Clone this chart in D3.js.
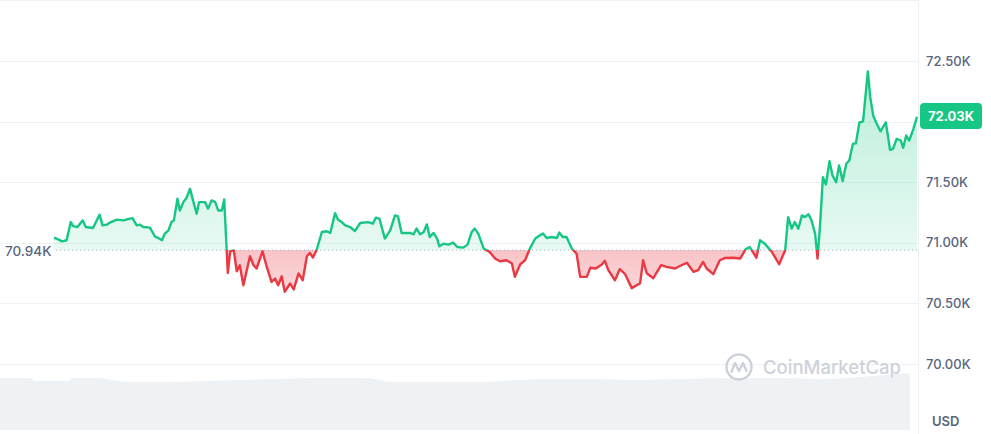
<!DOCTYPE html>
<html>
<head>
<meta charset="utf-8">
<script src="https://cdn.jsdelivr.net/npm/d3@7"></script>
<style>
  body { margin: 0; background: #fff; }
  svg { display: block; font-family: Inter, "Noto Sans", sans-serif; }
</style>
</head>
<body>
<div class="chart"></div>
<script>
// minutes since start of the 24h window
const times = [0,7,13,21,28,32,39,48,53,65,76,81,88,95,105,116,122,131,138,143,149,160,169,174,180,185,191,196,200,206,
  210,216,221,227,232,238,242,252,257,263,269,274,280,284,288,290,294,300,305,310,316,327,333,338,348,355,363,369,374,380,
  385,394,400,408,415,422,427,432,438,447,455,461,469,474,480,486,494,502,511,524,532,537,543,552,561,569,574,580,594,600,
  605,611,617,622,627,633,639,643,650,658,666,673,683,690,697,702,708,717,727,736,744,755,764,769,778,786,794,803,811,816,
  822,830,839,843,849,855,864,872,878,889,895,904,914,919,925,936,944,953,964,978,983,989,1000,1013,1022,1036,1047,1056,1067,1075,
  1083,1089,1100,1111,1120,1133,1145,1154,1161,1172,1178,1186,1198,1203,1210,1220,1225,1231,1236,1242,1248,1253,1259,1264,1270,1274,
  1278,1283,1288,1294,1299,1305,1310,1316,1322,1327,1333,1338,1344,1350,1358,1362,1367,1373,1379,1388,1395,1400,1406,1413,1417,1422,
  1427,1434,1440];

// BTC price, USD
const prices = [71043,71029,71012,71021,71171,71138,71130,71185,71130,71122,71232,71144,71150,71171,71191,71185,71193,71204,71144,71150,
  71130,71125,71048,71040,71021,71076,71103,71171,71185,71364,71267,71336,71369,71446,71350,71240,71336,71336,71281,71350,
  71336,71267,71267,71358,70955,70751,70930,70938,70765,70815,70650,70889,70815,70788,70930,70801,70677,70705,70650,70724,
  70595,70664,70615,70747,70691,70889,70916,70878,70938,71089,71095,71081,71245,71191,71171,71144,71130,71097,71163,71171,
  71158,71207,71199,71035,71103,71226,71218,71081,71081,71070,71117,71070,71089,71152,71048,71081,71037,70971,70993,70985,
  71002,70965,70960,70985,71089,71117,71076,70952,70924,70870,70848,70856,70829,70720,70823,70856,70952,71035,71062,71076,
  71040,71048,71040,71084,71048,71049,70952,70911,70719,70719,70794,70788,70821,70852,70774,70691,70782,70741,70626,70667,
  70856,70749,70708,70815,70801,70788,70815,70835,70760,70774,70842,70788,70741,70856,70875,70877,70870,70947,70965,70877,
  71021,70993,70924,70881,70823,70938,71212,71117,71171,71117,71226,71212,71235,71185,71076,70870,71130,71542,71481,71673,
  71556,71500,71638,71509,71652,71679,71816,71821,71994,72002,72414,72200,72049,71981,71920,71994,71767,71775,71858,71844,
  71784,71885,71844,71940,72040];

const openPrice = 70940;
const lastPrice = 72030;
// 72.00K sits under the price badge, so it gets a gridline but no label
const priceTicks = [70000, 70500, 71000, 71500, 72500];
const gridPrices = [70000, 70500, 71000, 71500, 72000, 72500, 73000];

// volume (bn USD) sampled over the same window
const volTimes = [0, 50, 53, 110, 113, 150, 205, 260, 380, 440, 500, 580, 620, 690, 760, 820, 880, 940, 1000, 1080, 1160, 1240, 1300, 1360, 1420, 1440];
const volumes  = [52, 52, 49, 49, 52, 52, 48, 48, 50, 51, 52, 52, 48, 48, 48, 50, 51, 51, 50, 51, 52, 52, 51, 53, 56, 57];

const W = 991, H = 434;
const axisX = 918;

const svg = d3.select(".chart").append("svg")
    .attr("width", W)
    .attr("height", H);

const x = d3.scaleLinear().domain([0, 1440]).range([54, 917]);
const y = d3.scaleLinear().domain([70000, 72500]).range([364, 61]);
const xv = d3.scaleLinear().domain([0, 1440]).range([0, 910]);
const yv = d3.scaleLinear().domain([0, 60]).range([430, 370]);

const data = times.map((t, i) => ({t: t, p: prices[i]}));
const vdata = volTimes.map((t, i) => ({t: t, v: volumes[i]}));
const yBase = y(openPrice);

// gridlines
svg.append("g")
    .selectAll("line")
    .data(gridPrices)
    .join("line")
    .attr("x1", 0)
    .attr("x2", axisX)
    .attr("y1", d => Math.round(y(d)) + 0.5)
    .attr("y2", d => Math.round(y(d)) + 0.5)
    .attr("stroke", "#eff2f5")
    .attr("stroke-width", 1);

// volume area
svg.append("path")
    .datum(vdata)
    .attr("fill", "#eff2f5")
    .attr("d", d3.area().x(d => xv(d.t)).y0(yv(0)).y1(d => yv(d.v)).curve(d3.curveMonotoneX));

// right axis separator
svg.append("line")
    .attr("x1", axisX + 0.5).attr("x2", axisX + 0.5)
    .attr("y1", 0).attr("y2", H)
    .attr("stroke", "#eff2f5");

// watermark
const wm = svg.append("g").attr("transform", "translate(739,367)");
wm.append("circle").attr("r", 12.5).attr("fill", "none").attr("stroke", "#cdd2da").attr("stroke-width", 2.4);
wm.append("path")
    .attr("d", "M-7.5,5 L-4,-4 L0,4 L4,-4 L7.5,4")
    .attr("fill", "none").attr("stroke", "#cdd2da").attr("stroke-width", 2.4)
    .attr("stroke-linejoin", "round").attr("stroke-linecap", "round");
svg.append("text")
    .attr("x", 763).attr("y", 374)
    .attr("font-size", 18.5).attr("font-weight", 500)
    .attr("fill", "#cdd2da")
    .text("CoinMarketCap");

const defs = svg.append("defs");
defs.append("clipPath").attr("id", "above")
    .append("rect").attr("x", 0).attr("y", 0).attr("width", axisX).attr("height", yBase);
defs.append("clipPath").attr("id", "below")
    .append("rect").attr("x", 0).attr("y", yBase).attr("width", axisX).attr("height", H - yBase);

const gUp = defs.append("linearGradient").attr("id", "gUp")
    .attr("gradientUnits", "userSpaceOnUse")
    .attr("x1", 0).attr("x2", 0).attr("y1", y(d3.max(prices))).attr("y2", yBase);
gUp.append("stop").attr("offset", 0).attr("stop-color", "#16c784").attr("stop-opacity", 0.3);
gUp.append("stop").attr("offset", 1).attr("stop-color", "#16c784").attr("stop-opacity", 0.1);

const gDown = defs.append("linearGradient").attr("id", "gDown")
    .attr("gradientUnits", "userSpaceOnUse")
    .attr("x1", 0).attr("x2", 0).attr("y1", yBase).attr("y2", y(d3.min(prices)));
gDown.append("stop").attr("offset", 0).attr("stop-color", "#ea3943").attr("stop-opacity", 0.3);
gDown.append("stop").attr("offset", 1).attr("stop-color", "#ea3943").attr("stop-opacity", 0.2);

const area = d3.area().x(d => x(d.t)).y0(yBase).y1(d => y(d.p));
const line = d3.line().x(d => x(d.t)).y(d => y(d.p));

svg.append("path").datum(data).attr("clip-path", "url(#above)").attr("fill", "url(#gUp)").attr("d", area);
svg.append("path").datum(data).attr("clip-path", "url(#below)").attr("fill", "url(#gDown)").attr("d", area);

// open price reference
svg.append("line")
    .attr("x1", 56).attr("x2", axisX)
    .attr("y1", yBase).attr("y2", yBase)
    .attr("stroke", "#a6b0c3")
    .attr("stroke-width", 1)
    .attr("stroke-dasharray", "1 3");

svg.append("path").datum(data).attr("clip-path", "url(#above)")
    .attr("fill", "none").attr("stroke", "#16c784").attr("stroke-width", 2.4)
    .attr("stroke-linejoin", "round").attr("d", line);
svg.append("path").datum(data).attr("clip-path", "url(#below)")
    .attr("fill", "none").attr("stroke", "#ea3943").attr("stroke-width", 2.4)
    .attr("stroke-linejoin", "round").attr("d", line);

const fmt = d => (d / 1000).toFixed(2) + "K";

svg.append("text")
    .attr("x", 5).attr("y", yBase + 1)
    .attr("dy", "0.35em")
    .attr("font-size", 13.5).attr("font-weight", 500)
    .attr("fill", "#58667e")
    .text(fmt(openPrice));

// y axis labels
svg.append("g")
    .selectAll("text")
    .data(priceTicks)
    .join("text")
    .attr("x", 926)
    .attr("y", d => y(d))
    .attr("dy", "0.35em")
    .attr("font-size", 13).attr("font-weight", 500)
    .attr("fill", "#58667e")
    .text(fmt);

// current price badge
const badge = svg.append("g").attr("transform", "translate(920," + (y(lastPrice) - 2) + ")");
badge.append("rect")
    .attr("x", 0).attr("y", -13).attr("width", 62).attr("height", 26).attr("rx", 4)
    .attr("fill", "#16c784");
badge.append("text")
    .attr("x", 31).attr("y", 0).attr("dy", "0.35em")
    .attr("text-anchor", "middle")
    .attr("font-size", 13).attr("font-weight", 700)
    .attr("fill", "#fff")
    .text(fmt(lastPrice));

svg.append("text")
    .attr("x", 932).attr("y", 421).attr("dy", "0.35em")
    .attr("font-size", 13).attr("font-weight", 600)
    .attr("fill", "#58667e")
    .text("USD");
</script>
</body>
</html>
